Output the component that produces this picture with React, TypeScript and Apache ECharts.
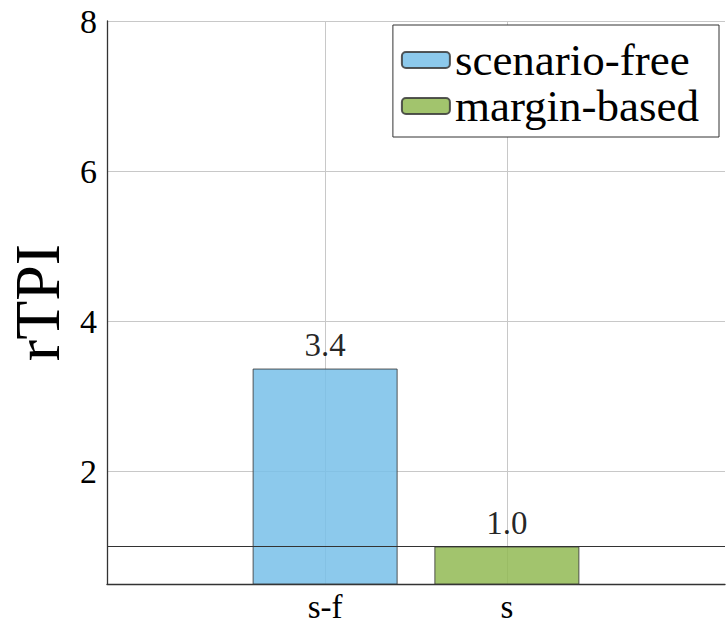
import React, { useEffect, useRef } from "react";
import * as echarts from "echarts";

const categories = ["s-f", "s"];
const categoryPositions = [1, 2];
const seriesNames = ["scenario-free", "margin-based"];
const scenarioFree = [[1, 3.37]];
const marginBased = [[2, 1.0]];
const yTicks = [2, 4, 6, 8];
const referenceLevel = 1;

const FONT = "'Liberation Serif', 'Times New Roman', serif";

export default function App() {
  const ref = useRef<HTMLDivElement>(null);
  useEffect(() => {
    if (!ref.current) return;
    const chart = echarts.init(ref.current, null, { renderer: "svg" });
    const labelFmt = (p: any) => Number(p.value[1]).toFixed(1);
    chart.setOption({
      animation: false,
      backgroundColor: "#ffffff",
      grid: { left: 107, right: 1, top: 21, bottom: 46, containLabel: false, outerBoundsMode: "none" },
      legend: {
        orient: "vertical",
        right: 7,
        top: 25,
        itemWidth: 48,
        itemHeight: 16,
        itemGap: 0,
        padding: [12, 20, 8, 8],
        borderColor: "#333333",
        borderWidth: 1,
        backgroundColor: "#ffffff",
        textStyle: { fontFamily: FONT, fontSize: 45, color: "#000", lineHeight: 46 },
        data: seriesNames,
      },
      xAxis: {
        type: "value",
        min: -0.2,
        max: 3.2,
        axisLine: { show: true, onZero: false, lineStyle: { color: "#333", width: 1.3 } },
        axisTick: { show: false, customValues: categoryPositions },
        axisLabel: {
          customValues: categoryPositions,
          formatter: (v: number) => {
            const i = categoryPositions.indexOf(Math.round(v));
            return i >= 0 ? categories[i] : "";
          },
          fontFamily: FONT,
          fontSize: 33,
          color: "#000",
          margin: 6,
        },
        splitLine: { show: true, lineStyle: { color: "#c8c8c8", width: 1 } },
      },
      yAxis: {
        type: "value",
        min: 0.5,
        max: 8,
        name: "rTPI",
        nameLocation: "middle",
        nameGap: 70,
        nameMoveOverlap: false,
        nameTextStyle: { fontFamily: FONT, fontSize: 64, color: "#000", lineHeight: 64, verticalAlign: "middle" },
        axisLine: { show: true, onZero: false, lineStyle: { color: "#333", width: 1.3 } },
        axisTick: { show: false, customValues: yTicks },
        axisLabel: {
          customValues: yTicks,
          fontFamily: FONT,
          fontSize: 34,
          color: "#000",
          margin: 10,
        },
        splitLine: { show: true, lineStyle: { color: "#c8c8c8", width: 1 } },
      },
      series: [
        {
          name: seriesNames[0],
          type: "bar",
          data: scenarioFree,
          barWidth: 145,
          barGap: "-100%",
          itemStyle: { color: "rgb(120,192,233)", opacity: 0.85, borderColor: "#3a3a3a", borderWidth: 1 },
          label: {
            show: true,
            position: "top",
            distance: 7,
            formatter: labelFmt,
            fontFamily: FONT,
            fontSize: 33,
            color: "#000",
          },
          markLine: {
            silent: true,
            symbol: "none",
            label: { show: false },
            lineStyle: { color: "#333", width: 1.2, type: "solid" },
            data: [{ yAxis: referenceLevel }],
          },
        },
        {
          name: seriesNames[1],
          type: "bar",
          data: marginBased,
          barWidth: 145,
          barGap: "-100%",
          itemStyle: { color: "rgb(146,186,83)", opacity: 0.85, borderColor: "#3a3a3a", borderWidth: 1 },
          label: {
            show: true,
            position: "top",
            distance: 7,
            formatter: labelFmt,
            fontFamily: FONT,
            fontSize: 33,
            color: "#000",
          },
        },
      ],
    });
    return () => chart.dispose();
  }, []);
  return (
    <div
      ref={ref}
      style={{ position: "absolute", left: 0, top: 0, width: 726, height: 630 }}
    />
  );
}
